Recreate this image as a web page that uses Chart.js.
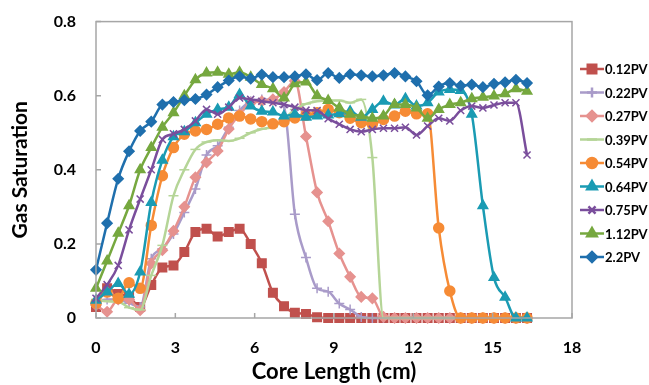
<!DOCTYPE html>
<html>
<head>
<meta charset="utf-8">
<script src="https://cdn.jsdelivr.net/npm/chart.js@4.4.0/dist/chart.umd.min.js"></script>
<style>
  body { margin: 0; background: #fff; }
  #wrap { width: 649px; height: 385px; }
</style>
</head>
<body>
<div id="wrap"><canvas id="chart-1" width="649" height="385"></canvas></div>
<script>
// core positions (cm)
const positions = [0, 0.42, 0.84, 1.25, 1.67, 2.09, 2.51, 2.93, 3.34, 3.76, 4.18, 4.60, 5.02, 5.43, 5.85, 6.27, 6.69, 7.11, 7.52, 7.94,
  8.36, 8.78, 9.20, 9.61, 10.03, 10.45, 10.87, 11.29, 11.70, 12.12, 12.54, 12.96, 13.38, 13.79, 14.21, 14.63, 15.05, 15.47, 15.88, 16.30];

const labels = ["0.12PV", "0.22PV", "0.27PV", "0.39PV", "0.54PV", "0.64PV", "0.75PV", "1.12PV", "2.2PV"];

const pv012 = [0.03, 0.08, 0.065, 0.057, 0.03, 0.089, 0.136, 0.142, 0.178, 0.232, 0.241, 0.22, 0.232, 0.241, 0.2, 0.148, 0.068, 0.032, 0.014, 0.011,
  0.002, 0, 0, 0, 0, 0, 0, 0, 0, 0, 0, 0, 0, 0, 0, 0, 0, 0, 0, 0];
const pv022 = [0.04, 0.05, 0.05, 0.04, 0.03, 0.16, 0.187, 0.227, 0.285, 0.348, 0.44, 0.465, 0.515, 0.56, 0.585, 0.59, 0.588, 0.57, 0.28, 0.163,
  0.08, 0.071, 0.039, 0.023, 0.003, 0, 0, 0, 0, 0, 0, 0, 0, 0, 0, 0, 0, 0, 0, 0];
const pv027 = [0.035, 0.017, 0.05, 0.05, 0.021, 0.147, 0.183, 0.235, 0.30, 0.38, 0.42, 0.451, 0.51, 0.55, 0.58, 0.585, 0.59, 0.61, 0.64, 0.49,
  0.339, 0.261, 0.174, 0.111, 0.057, 0.053, 0.003, 0, 0, 0, 0, 0, 0, 0, 0, 0, 0, 0, 0, 0];
const pv039 = [0.05, 0.045, 0.044, 0.028, 0.022, 0.115, 0.196, 0.33, 0.40, 0.455, 0.475, 0.48, 0.478, 0.485, 0.50, 0.51, 0.516, 0.536, 0.563, 0.578,
  0.585, 0.587, 0.587, 0.581, 0.59, 0.433, 0, 0, 0, 0, 0, 0, 0, 0, 0, 0, 0, 0, 0, 0];
const pv054 = [0.04, 0.07, 0.053, 0.095, 0.08, 0.25, 0.384, 0.46, 0.496, 0.505, 0.509, 0.523, 0.54, 0.545, 0.537, 0.53, 0.524, 0.53, 0.54, 0.547,
  0.554, 0.563, 0.554, 0.539, 0.527, 0.523, 0.536, 0.545, 0.558, 0.551, 0.551, 0.243, 0.073, 0, 0, 0, 0, 0, 0, 0];
const pv064 = [0.048, 0.07, 0.093, 0.064, 0.124, 0.312, 0.426, 0.489, 0.503, 0.527, 0.55, 0.563, 0.569, 0.603, 0.572, 0.558, 0.556, 0.545, 0.55, 0.542,
  0.545, 0.548, 0.551, 0.558, 0.542, 0.563, 0.585, 0.575, 0.592, 0.572, 0.581, 0.61, 0.617, 0.614, 0.55, 0.303, 0.109, 0.056, 0, 0];
const pv075 = [0.053, 0.09, 0.142, 0.238, 0.321, 0.40, 0.482, 0.497, 0.509, 0.532, 0.563, 0.55, 0.569, 0.594, 0.59, 0.585, 0.581, 0.576, 0.569, 0.561,
  0.56, 0.538, 0.523, 0.509, 0.503, 0.509, 0.512, 0.512, 0.515, 0.494, 0.518, 0.539, 0.532, 0.56, 0.572, 0.567, 0.575, 0.581, 0.581, 0.44];
const pv112 = [0.08, 0.154, 0.229, 0.303, 0.40, 0.46, 0.515, 0.554, 0.60, 0.643, 0.661, 0.663, 0.658, 0.663, 0.65, 0.63, 0.619, 0.594, 0.632, 0.637,
  0.60, 0.587, 0.567, 0.55, 0.545, 0.539, 0.545, 0.576, 0.576, 0.567, 0.539, 0.563, 0.576, 0.581, 0.592, 0.596, 0.599, 0.605, 0.619, 0.612];
const pv22 = [0.13, 0.256, 0.376, 0.45, 0.505, 0.53, 0.576, 0.583, 0.588, 0.591, 0.603, 0.623, 0.641, 0.652, 0.646, 0.657, 0.65, 0.65, 0.652, 0.658,
  0.642, 0.661, 0.648, 0.658, 0.655, 0.652, 0.655, 0.661, 0.652, 0.639, 0.601, 0.625, 0.634, 0.627, 0.63, 0.623, 0.632, 0.636, 0.643, 0.634];

const series = [pv012, pv022, pv027, pv039, pv054, pv064, pv075, pv112, pv22];
const colors = ["#C0504D", "#A99BC9", "#E6928F", "#B5D597", "#F68B35", "#1A9BB3", "#7A4E9C", "#76A83F", "#1F6FAD"];
const styles = ["rect", "cross", "rectRot", "line", "circle", "triangle", "crossRot", "triangle", "rectRot"];
const radii = [6, 5, 5, 5, 5, 5.5, 5, 5.5, 5];

const font = "Lato";

// Excel style inward ticks, box border and legend with line + marker
const excelBits = {
  id: "excelBits",
  afterDraw(chart) {
    const ctx = chart.ctx;
    const a = chart.chartArea;
    ctx.save();
    ctx.strokeStyle = "#A6A6A6";
    ctx.lineWidth = 1.5;
    ctx.strokeRect(a.left, a.top, a.right - a.left, a.bottom - a.top);
    ctx.beginPath();
    chart.scales.y.ticks.forEach(t => {
      const py = chart.scales.y.getPixelForValue(t.value);
      ctx.moveTo(a.left, py);
      ctx.lineTo(a.left + 5, py);
    });
    chart.scales.x.ticks.forEach(t => {
      const px = chart.scales.x.getPixelForValue(t.value);
      ctx.moveTo(px, a.bottom);
      ctx.lineTo(px, a.bottom - 5);
    });
    ctx.stroke();

    // legend
    chart.data.datasets.forEach((ds, i) => {
      const y = 69 + i * 23.5;
      const x0 = a.right + 8;
      ctx.strokeStyle = ds.borderColor;
      ctx.lineWidth = 2.5;
      ctx.beginPath();
      ctx.moveTo(x0, y);
      ctx.lineTo(x0 + 24, y);
      ctx.stroke();
      ctx.fillStyle = ds.borderColor;
      Chart.helpers.drawPoint(ctx, {pointStyle: ds.pointStyle, radius: ds.pointRadius, borderWidth: 1.5, rotation: 0}, x0 + 12, y);
      ctx.fillStyle = "#000";
      ctx.font = "bold 13px " + font;
      ctx.textBaseline = "middle";
      ctx.textAlign = "left";
      ctx.fillText(ds.label, x0 + 25, y + 1);
    });
    ctx.restore();
  }
};

const ctx1 = document.getElementById("chart-1").getContext("2d");
const myChart = new Chart(ctx1, {
  type: "line",
  data: {
    datasets: series.map((vals, i) => ({
      label: labels[i],
      data: vals.map((v, k) => ({x: positions[k], y: v})),
      borderColor: colors[i],
      backgroundColor: colors[i],
      pointBorderColor: colors[i],
      pointBackgroundColor: colors[i],
      pointStyle: styles[i],
      pointRadius: radii[i],
      pointBorderWidth: 1.5,
      borderWidth: 2.5,
      cubicInterpolationMode: "monotone",
      clip: false,
      order: series.length - i,
    })),
  },
  options: {
    responsive: false,
    animation: false,
    layout: { padding: { top: 20, right: 77, left: 0, bottom: 0 } },
    plugins: { legend: { display: false }, tooltip: { enabled: false } },
    scales: {
      x: {
        type: "linear",
        min: 0,
        max: 18,
        ticks: { stepSize: 3, color: "#000", font: { family: font, size: 16, weight: "bold" }, padding: 12 },
        grid: { display: false },
        border: { display: false },
        title: { display: true, text: "Core Length (cm)", color: "#000", font: { family: font, size: 22, weight: "bold" }, padding: { top: 4, bottom: 0 } },
        afterFit: s => { s.height = 67; },
      },
      y: {
        min: 0,
        max: 0.8,
        ticks: { stepSize: 0.2, color: "#000", font: { family: font, size: 16, weight: "bold" }, padding: 12 },
        grid: { display: false },
        border: { display: false },
        title: { display: true, text: "Gas Saturation", color: "#000", font: { family: font, size: 21, weight: "bold" }, padding: { top: 8 } },
        afterFit: s => { s.width = 96; },
      },
    },
  },
  plugins: [excelBits],
});
</script>
</body>
</html>
